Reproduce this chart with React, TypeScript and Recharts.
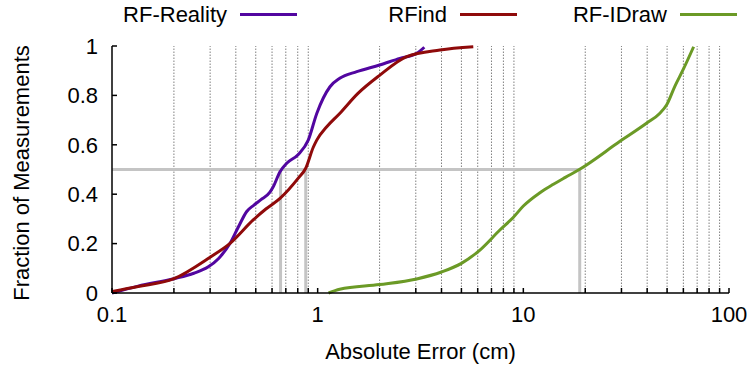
import React from 'react';
import { ComposedChart, Line, XAxis, YAxis, ReferenceLine } from 'recharts';

// RF-Reality
const realityX = [0.1, 0.134, 0.2, 0.25, 0.294, 0.33, 0.375, 0.412, 0.452, 0.49, 0.53, 0.586, 0.608, 0.656, 0.707, 0.805, 0.9, 0.99, 1.148, 1.28, 1.55, 2.0, 2.51, 3.03, 3.3];
const realityY = [0, 0.028, 0.058, 0.08, 0.106, 0.14, 0.201, 0.268, 0.33, 0.356, 0.378, 0.408, 0.43, 0.491, 0.525, 0.561, 0.619, 0.727, 0.835, 0.869, 0.896, 0.923, 0.95, 0.97, 0.995];

// RFind
const rfindX = [0.1, 0.134, 0.2, 0.3, 0.375, 0.486, 0.56, 0.656, 0.805, 0.875, 0.952, 0.99, 1.107, 1.28, 1.57, 2.0, 2.71, 3.93, 5.71];
const rfindY = [0.006, 0.026, 0.058, 0.145, 0.201, 0.296, 0.34, 0.383, 0.465, 0.505, 0.59, 0.619, 0.673, 0.727, 0.808, 0.881, 0.957, 0.984, 0.997];

// RF-IDraw
const idrawX = [1.13, 1.28, 2.0, 3.03, 4.0, 5.0, 6.15, 7.69, 8.93, 10.0, 12.0, 14.0, 16.0, 18.8, 29.5, 39.7, 46.0, 49.7, 54.6, 59.9, 67.3];
const idrawY = [0, 0.015, 0.034, 0.057, 0.085, 0.12, 0.174, 0.255, 0.306, 0.352, 0.405, 0.44, 0.468, 0.501, 0.614, 0.687, 0.727, 0.761, 0.838, 0.905, 0.997];

// 50% crossings
const medianX = [0.66, 0.875, 18.8];

const majorTicks = [0.1, 1, 10, 100];
const minorTicks = [0.2, 0.3, 0.4, 0.5, 0.6, 0.7, 0.8, 0.9, 2, 3, 4, 5, 6, 7, 8, 9, 20, 30, 40, 50, 60, 70, 80, 90];
const yTicks = [0, 0.2, 0.4, 0.6, 0.8, 1];

const seriesNames = ['RF-Reality', 'RFind', 'RF-IDraw'];
const seriesColors = ['#5206a0', '#8f0a0a', '#6b9a26'];

const zip = (xs: number[], ys: number[]) => xs.map((x, i) => ({ x, y: ys[i] }));
const realityData = zip(realityX, realityY);
const rfindData = zip(rfindX, rfindY);
const idrawData = zip(idrawX, idrawY);

const allTicks = [...majorTicks, ...minorTicks].sort((a, b) => a - b);
const FONT = '"Liberation Sans", Arial, Helvetica, sans-serif';
const FS = 22;

const fmtY = (v: number) => (v === 0 ? '0' : v === 1 ? '1' : v.toFixed(1));
const fmtX = (v: number) => (majorTicks.includes(v) ? String(v) : '');

export default function App() {
  return (
    <div style={{ position: 'absolute', left: 0, top: 0, width: 751, height: 366, background: '#fff', fontFamily: FONT }}>
      <ComposedChart width={751} height={366} margin={{ top: 46, right: 22, bottom: 0, left: 0 }}>
        {minorTicks.map((t) => (
          <ReferenceLine key={'g' + t} x={t} stroke="#808080" strokeWidth={1} strokeDasharray="1.5 1.5" />
        ))}
        <ReferenceLine
          segment={[{ x: 0.1, y: 0.5 }, { x: medianX[2], y: 0.5 }]}
          stroke="#c4c4c4"
          strokeWidth={3}
        />
        {medianX.map((m) => (
          <ReferenceLine key={'m' + m} segment={[{ x: m, y: 0 }, { x: m, y: 0.5 }]} stroke="#c4c4c4" strokeWidth={3} />
        ))}
        <XAxis
          dataKey="x"
          type="number"
          scale="log"
          domain={[0.1, 100]}
          allowDataOverflow
          ticks={allTicks}
          tickFormatter={fmtX}
          interval={0}
          height={73}
          tickSize={-5}
          tickMargin={18}
          stroke="#000"
          strokeWidth={1.5}
          tick={{ fill: '#000', fontSize: FS, fontFamily: FONT }}
          label={{
            content: () => (
              <text x={420.5} y={359} textAnchor="middle" fontSize={FS} fontFamily={FONT} fill="#000">
                Absolute Error (cm)
              </text>
            ),
          }}
        />
        <YAxis
          type="number"
          domain={[0, 1]}
          ticks={yTicks}
          tickFormatter={fmtY}
          width={112}
          tickSize={-5}
          tickMargin={19}
          stroke="#000"
          strokeWidth={1.5}
          tick={{ fill: '#000', fontSize: FS, fontFamily: FONT }}
          label={{
            content: () => (
              <text
                x={21}
                y={173}
                transform="rotate(-90 21 173)"
                textAnchor="middle"
                dominantBaseline="central"
                fontSize={FS}
                fontFamily={FONT}
                fill="#000"
              >
                Fraction of Measurements
              </text>
            ),
          }}
        />
        <Line data={realityData} dataKey="y" name={seriesNames[0]} type="monotone" stroke={seriesColors[0]} strokeWidth={3} dot={false} isAnimationActive={false} />
        <Line data={rfindData} dataKey="y" name={seriesNames[1]} type="monotone" stroke={seriesColors[1]} strokeWidth={3} dot={false} isAnimationActive={false} />
        <Line data={idrawData} dataKey="y" name={seriesNames[2]} type="monotone" stroke={seriesColors[2]} strokeWidth={3} dot={false} isAnimationActive={false} />
      </ComposedChart>
      <div style={{ position: 'absolute', left: 77, top: 2, display: 'flex', fontSize: FS, fontFamily: FONT, color: '#000', lineHeight: '25px' }}>
        {seriesNames.map((n, i) => (
          <div key={n} style={{ width: 220, display: 'flex', justifyContent: 'flex-end', alignItems: 'center' }}>
            <span>{n}</span>
            <span style={{ display: 'inline-block', width: 57, height: 3, background: seriesColors[i], marginLeft: 13 }} />
          </div>
        ))}
      </div>
    </div>
  );
}
